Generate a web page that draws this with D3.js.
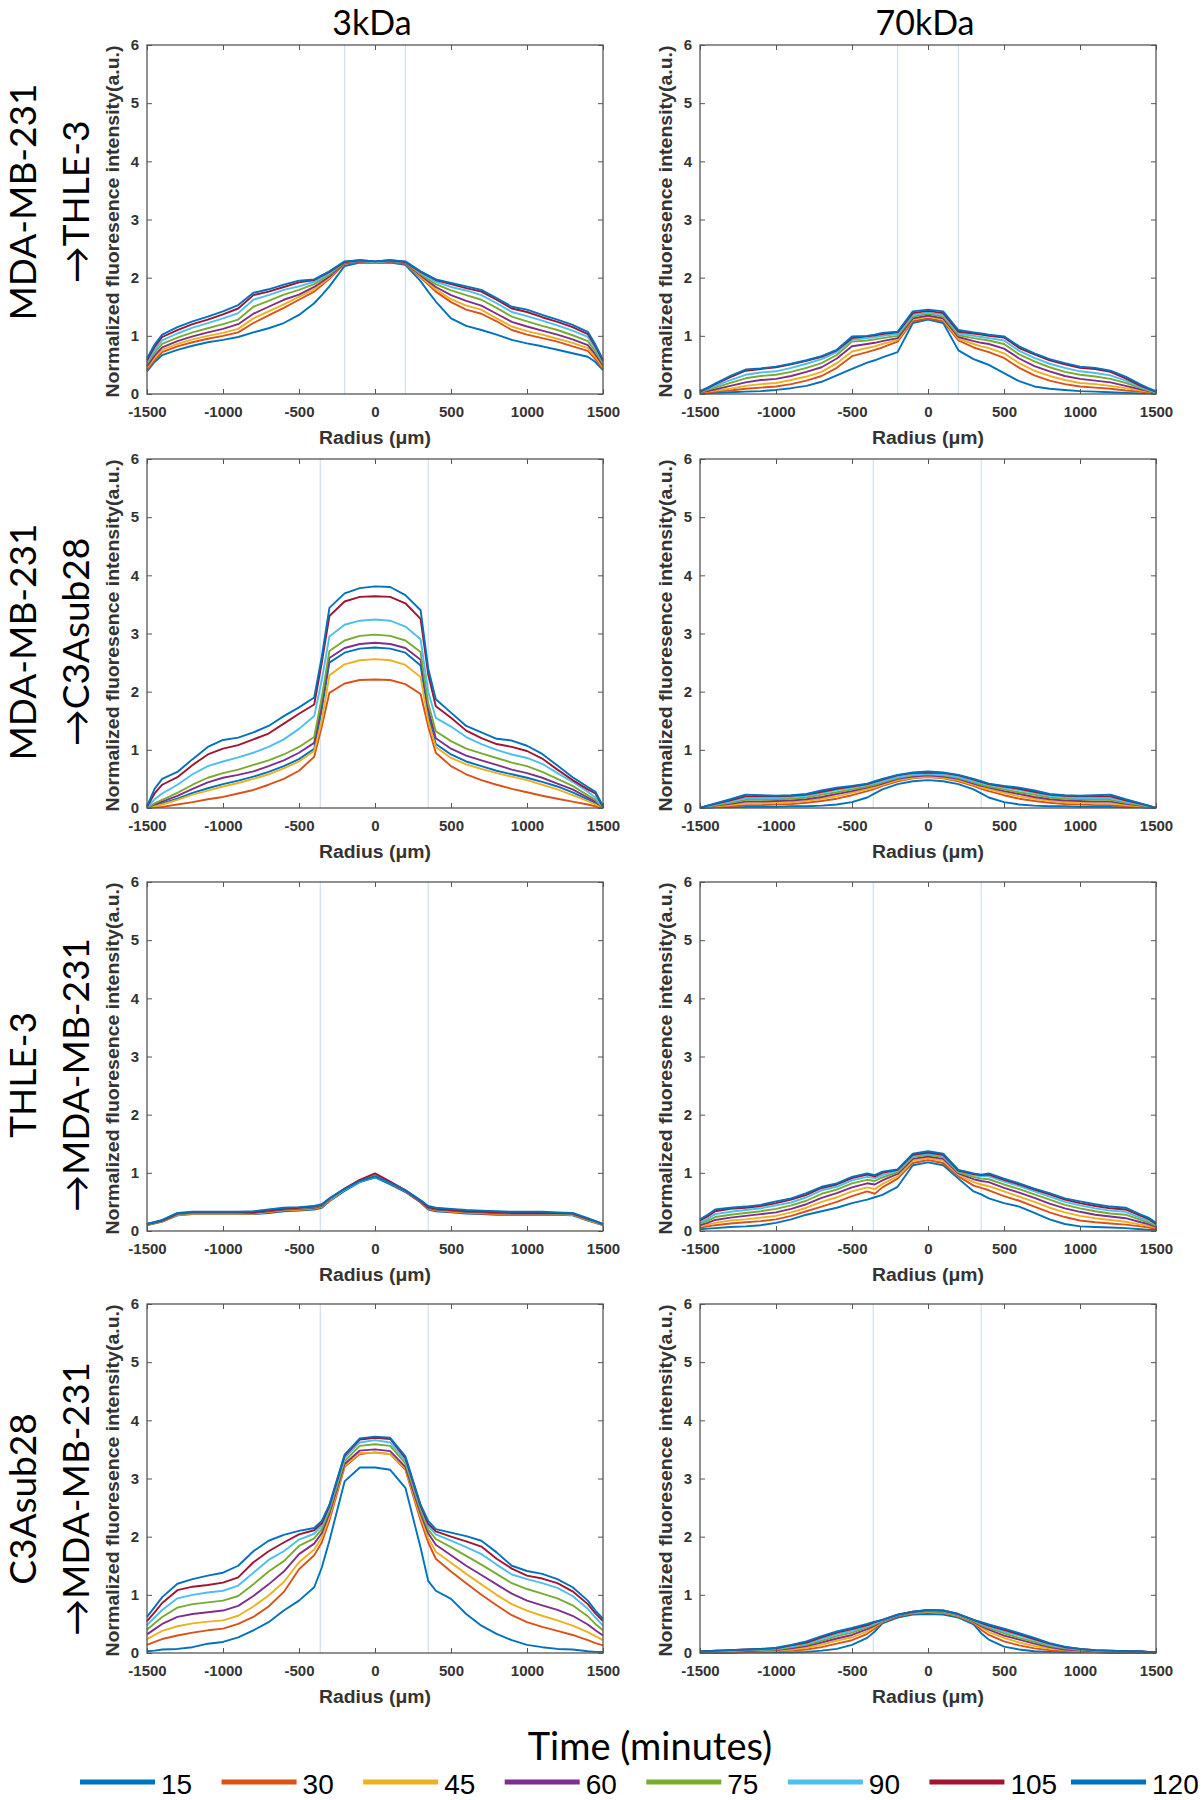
<!DOCTYPE html>
<html>
<head>
<meta charset="utf-8">
<script src="https://cdn.jsdelivr.net/npm/d3@7/dist/d3.min.js"></script>
<style>
  html, body { margin: 0; padding: 0; background: #fff; }
  svg { display: block; }
</style>
</head>
<body>
<script>
// ---------------- DATA ----------------
const radius = [-1500,-1450,-1400,-1300,-1200,-1100,-1000,-900,-800,-700,-600,-500,-400,-350,-300,-200,-100,0,100,200,300,350,400,500,600,700,800,900,1000,1100,1200,1300,1400,1450,1500];
const timeLabels = ["15","30","45","60","75","90","105","120"];
const columnTitles = ["3kDa","70kDa"];
const rowTitles = [["MDA-MB-231","\u2192THLE-3"],["MDA-MB-231","\u2192C3Asub28"],["THLE-3","\u2192MDA-MB-231"],["C3Asub28","\u2192MDA-MB-231"]];
const guideRadii = [[-200,200],[-360,350],[-360,350],[-360,350]];
const xTicks = [-1500,-1000,-500,0,500,1000,1500];
const yTicks = [0,1,2,3,4,5,6];
const xLabel = "Radius (\u03bcm)";
const yLabel = "Normalized fluoresence intensity(a.u.)";
const legendTitle = "Time (minutes)";

// row 1: MDA-MB-231 -> THLE-3
const mdaThle3k = [
[0.39,0.55,0.67,0.76,0.83,0.89,0.93,0.98,1.06,1.13,1.22,1.36,1.56,1.70,1.85,2.20,2.26,2.25,2.26,2.22,1.94,1.76,1.59,1.30,1.17,1.10,1.02,0.93,0.87,0.82,0.76,0.70,0.64,0.55,0.41],
[0.42,0.58,0.72,0.82,0.89,0.95,1.00,1.06,1.22,1.35,1.48,1.62,1.76,1.87,1.98,2.24,2.27,2.26,2.27,2.24,2.00,1.88,1.76,1.58,1.45,1.38,1.25,1.10,1.02,0.96,0.90,0.82,0.74,0.60,0.43],
[0.45,0.62,0.76,0.86,0.94,1.00,1.05,1.12,1.30,1.42,1.54,1.67,1.80,1.90,2.00,2.25,2.28,2.26,2.28,2.25,2.02,1.91,1.80,1.63,1.52,1.45,1.30,1.16,1.08,1.02,0.95,0.88,0.79,0.64,0.46],
[0.48,0.66,0.80,0.91,0.99,1.06,1.12,1.20,1.38,1.50,1.62,1.71,1.84,1.93,2.02,2.25,2.28,2.27,2.28,2.25,2.04,1.94,1.84,1.70,1.60,1.52,1.38,1.24,1.16,1.09,1.02,0.94,0.84,0.68,0.49],
[0.52,0.71,0.86,0.97,1.06,1.13,1.20,1.28,1.50,1.60,1.71,1.79,1.89,1.97,2.05,2.26,2.29,2.27,2.29,2.26,2.06,1.97,1.89,1.78,1.70,1.62,1.48,1.33,1.25,1.17,1.10,1.01,0.91,0.73,0.52],
[0.55,0.76,0.92,1.04,1.14,1.22,1.30,1.39,1.62,1.70,1.79,1.85,1.93,2.00,2.08,2.27,2.29,2.27,2.29,2.27,2.08,2.00,1.93,1.84,1.78,1.70,1.56,1.41,1.34,1.26,1.18,1.09,0.98,0.78,0.55],
[0.58,0.81,0.98,1.10,1.20,1.28,1.37,1.47,1.70,1.76,1.84,1.92,1.96,2.03,2.10,2.27,2.30,2.28,2.30,2.27,2.10,2.03,1.96,1.89,1.82,1.76,1.62,1.47,1.41,1.32,1.24,1.15,1.03,0.82,0.57],
[0.61,0.85,1.02,1.15,1.25,1.33,1.42,1.53,1.74,1.80,1.88,1.95,1.97,2.04,2.11,2.28,2.30,2.28,2.30,2.28,2.11,2.04,1.97,1.91,1.85,1.79,1.65,1.50,1.45,1.36,1.28,1.19,1.07,0.85,0.59]
];
const mdaThle70k = [
[0.01,0.01,0.02,0.03,0.04,0.05,0.07,0.10,0.14,0.21,0.32,0.43,0.54,0.58,0.63,0.72,1.22,1.28,1.22,0.75,0.60,0.55,0.50,0.36,0.22,0.13,0.09,0.07,0.05,0.04,0.03,0.02,0.01,0.01,0.01],
[0.02,0.03,0.04,0.06,0.09,0.11,0.13,0.17,0.23,0.31,0.45,0.65,0.72,0.76,0.80,0.90,1.25,1.30,1.25,0.92,0.80,0.76,0.72,0.62,0.45,0.32,0.23,0.17,0.13,0.11,0.09,0.06,0.04,0.02,0.01],
[0.02,0.04,0.06,0.09,0.14,0.17,0.19,0.24,0.30,0.38,0.53,0.73,0.79,0.82,0.86,0.93,1.28,1.33,1.28,0.95,0.86,0.82,0.79,0.70,0.53,0.40,0.31,0.24,0.19,0.17,0.14,0.10,0.06,0.04,0.02],
[0.03,0.05,0.08,0.14,0.20,0.24,0.26,0.31,0.38,0.46,0.61,0.82,0.86,0.88,0.91,0.96,1.30,1.35,1.30,0.98,0.91,0.88,0.86,0.78,0.61,0.48,0.39,0.31,0.26,0.23,0.20,0.14,0.08,0.05,0.02],
[0.03,0.07,0.11,0.19,0.27,0.31,0.33,0.38,0.45,0.53,0.67,0.90,0.92,0.94,0.96,1.00,1.33,1.38,1.33,1.01,0.96,0.94,0.92,0.86,0.68,0.56,0.46,0.38,0.33,0.30,0.26,0.19,0.10,0.06,0.03],
[0.04,0.09,0.14,0.24,0.33,0.37,0.39,0.45,0.52,0.60,0.72,0.93,0.96,0.98,1.00,1.03,1.36,1.40,1.36,1.04,1.00,0.98,0.96,0.92,0.74,0.62,0.52,0.45,0.39,0.36,0.32,0.23,0.12,0.07,0.03],
[0.04,0.10,0.17,0.29,0.40,0.43,0.46,0.51,0.57,0.64,0.75,0.96,0.99,1.01,1.03,1.06,1.39,1.43,1.39,1.07,1.04,1.02,1.00,0.97,0.79,0.68,0.58,0.51,0.45,0.43,0.38,0.27,0.14,0.09,0.04],
[0.05,0.11,0.18,0.31,0.42,0.44,0.47,0.52,0.58,0.65,0.76,0.99,1.00,1.02,1.05,1.07,1.42,1.45,1.42,1.10,1.06,1.04,1.02,0.99,0.82,0.70,0.60,0.53,0.47,0.45,0.40,0.30,0.16,0.10,0.05]
];
// row 2: MDA-MB-231 -> C3Asub28
const mdaC3a3k = [
[0.00,0.04,0.08,0.16,0.26,0.34,0.41,0.47,0.54,0.62,0.72,0.84,1.02,1.70,2.50,2.67,2.74,2.76,2.74,2.67,2.45,1.60,1.10,0.92,0.80,0.72,0.64,0.58,0.52,0.45,0.37,0.27,0.15,0.08,0.00],
[0.00,0.01,0.02,0.06,0.10,0.15,0.19,0.25,0.31,0.40,0.50,0.64,0.88,1.40,1.98,2.14,2.20,2.21,2.20,2.13,1.96,1.40,0.95,0.72,0.58,0.48,0.40,0.33,0.27,0.21,0.16,0.11,0.06,0.03,0.00],
[0.00,0.03,0.06,0.14,0.23,0.30,0.37,0.43,0.50,0.58,0.68,0.80,0.98,1.50,2.28,2.47,2.54,2.56,2.54,2.46,2.25,1.50,1.05,0.86,0.75,0.67,0.60,0.54,0.48,0.40,0.32,0.22,0.12,0.06,0.00],
[0.00,0.06,0.11,0.21,0.33,0.44,0.52,0.57,0.63,0.72,0.82,0.95,1.12,1.80,2.58,2.75,2.82,2.84,2.82,2.75,2.55,1.70,1.20,1.02,0.90,0.82,0.74,0.66,0.60,0.52,0.42,0.32,0.18,0.11,0.00],
[0.00,0.08,0.14,0.26,0.40,0.52,0.60,0.66,0.74,0.82,0.92,1.05,1.22,1.90,2.70,2.88,2.96,2.98,2.96,2.88,2.68,1.80,1.32,1.15,1.02,0.94,0.86,0.78,0.72,0.62,0.50,0.38,0.22,0.14,0.00],
[0.01,0.15,0.25,0.40,0.58,0.72,0.80,0.87,0.95,1.05,1.18,1.36,1.58,2.20,2.95,3.15,3.22,3.24,3.22,3.12,2.90,2.00,1.55,1.40,1.22,1.10,1.00,0.92,0.86,0.76,0.60,0.45,0.28,0.18,0.01],
[0.02,0.25,0.40,0.53,0.74,0.92,1.02,1.08,1.18,1.28,1.45,1.62,1.78,2.50,3.30,3.55,3.63,3.64,3.63,3.52,3.25,2.30,1.75,1.55,1.33,1.20,1.10,1.05,0.98,0.85,0.66,0.48,0.32,0.25,0.02],
[0.03,0.33,0.50,0.62,0.84,1.05,1.17,1.21,1.30,1.41,1.58,1.73,1.90,2.60,3.44,3.69,3.78,3.81,3.80,3.66,3.40,2.40,1.87,1.64,1.41,1.30,1.19,1.16,1.07,0.93,0.73,0.53,0.36,0.28,0.03]
];
const mdaC3a70k = [
[0.00,0.00,0.01,0.01,0.02,0.02,0.02,0.03,0.03,0.04,0.06,0.10,0.18,0.25,0.32,0.41,0.46,0.48,0.46,0.41,0.32,0.25,0.18,0.10,0.06,0.04,0.03,0.03,0.02,0.02,0.02,0.01,0.01,0.00,0.00],
[0.00,0.01,0.02,0.03,0.05,0.05,0.06,0.07,0.09,0.12,0.16,0.22,0.29,0.33,0.38,0.46,0.51,0.53,0.51,0.46,0.38,0.33,0.29,0.22,0.16,0.12,0.09,0.07,0.06,0.05,0.05,0.03,0.02,0.01,0.00],
[0.00,0.01,0.03,0.05,0.08,0.08,0.09,0.10,0.12,0.16,0.20,0.26,0.32,0.35,0.40,0.48,0.52,0.54,0.52,0.48,0.40,0.35,0.32,0.26,0.20,0.16,0.12,0.10,0.09,0.08,0.08,0.05,0.03,0.01,0.00],
[0.00,0.02,0.04,0.07,0.11,0.11,0.12,0.13,0.15,0.19,0.24,0.29,0.35,0.38,0.42,0.50,0.54,0.56,0.54,0.50,0.42,0.38,0.35,0.29,0.24,0.19,0.15,0.13,0.12,0.11,0.11,0.07,0.04,0.02,0.00],
[0.00,0.02,0.05,0.09,0.14,0.14,0.15,0.16,0.18,0.23,0.27,0.32,0.37,0.40,0.44,0.52,0.56,0.58,0.56,0.52,0.44,0.40,0.37,0.32,0.27,0.23,0.18,0.16,0.15,0.14,0.14,0.09,0.05,0.02,0.00],
[0.00,0.03,0.06,0.11,0.17,0.17,0.17,0.19,0.21,0.26,0.31,0.35,0.40,0.43,0.46,0.53,0.57,0.59,0.57,0.53,0.46,0.43,0.40,0.35,0.31,0.26,0.21,0.19,0.17,0.17,0.17,0.11,0.06,0.03,0.00],
[0.00,0.04,0.07,0.13,0.20,0.20,0.20,0.21,0.23,0.28,0.33,0.37,0.41,0.45,0.49,0.56,0.60,0.61,0.60,0.56,0.49,0.45,0.41,0.37,0.33,0.28,0.23,0.21,0.20,0.20,0.20,0.13,0.07,0.04,0.00],
[0.00,0.04,0.08,0.15,0.23,0.22,0.21,0.22,0.24,0.30,0.35,0.38,0.42,0.46,0.50,0.57,0.61,0.63,0.61,0.57,0.50,0.46,0.42,0.38,0.35,0.30,0.24,0.22,0.21,0.22,0.23,0.15,0.08,0.04,0.00]
];
// row 3: THLE-3 -> MDA-MB-231
const thleMda3k = [
[0.10,0.13,0.16,0.27,0.29,0.29,0.29,0.29,0.29,0.31,0.34,0.35,0.37,0.40,0.51,0.69,0.84,0.92,0.80,0.67,0.49,0.37,0.34,0.32,0.30,0.29,0.28,0.28,0.28,0.28,0.28,0.27,0.18,0.14,0.10],
[0.10,0.13,0.16,0.28,0.30,0.30,0.30,0.30,0.30,0.32,0.35,0.36,0.38,0.41,0.52,0.71,0.86,0.95,0.82,0.68,0.50,0.38,0.35,0.33,0.31,0.30,0.29,0.29,0.29,0.29,0.29,0.28,0.19,0.15,0.10],
[0.11,0.14,0.17,0.28,0.30,0.30,0.30,0.30,0.30,0.33,0.36,0.37,0.39,0.42,0.53,0.71,0.86,0.96,0.83,0.69,0.51,0.39,0.36,0.34,0.32,0.31,0.30,0.29,0.29,0.29,0.29,0.28,0.19,0.15,0.11],
[0.11,0.14,0.17,0.29,0.31,0.31,0.31,0.31,0.31,0.34,0.37,0.38,0.40,0.43,0.54,0.72,0.87,0.95,0.83,0.69,0.51,0.40,0.37,0.35,0.33,0.32,0.31,0.30,0.30,0.30,0.30,0.29,0.20,0.16,0.11],
[0.11,0.14,0.17,0.29,0.31,0.31,0.31,0.31,0.32,0.35,0.38,0.39,0.41,0.44,0.55,0.72,0.87,0.96,0.84,0.70,0.52,0.41,0.38,0.36,0.34,0.33,0.32,0.31,0.31,0.31,0.30,0.29,0.20,0.16,0.11],
[0.12,0.15,0.18,0.30,0.32,0.32,0.32,0.32,0.33,0.36,0.39,0.40,0.42,0.45,0.55,0.71,0.85,0.93,0.83,0.70,0.53,0.42,0.39,0.37,0.35,0.34,0.33,0.32,0.32,0.32,0.31,0.30,0.21,0.17,0.12],
[0.12,0.15,0.18,0.30,0.32,0.32,0.32,0.32,0.32,0.35,0.38,0.40,0.42,0.45,0.56,0.73,0.88,0.99,0.85,0.70,0.52,0.41,0.38,0.36,0.34,0.33,0.32,0.31,0.31,0.31,0.31,0.30,0.21,0.17,0.12],
[0.12,0.15,0.19,0.31,0.33,0.33,0.33,0.33,0.34,0.37,0.40,0.41,0.43,0.46,0.56,0.72,0.86,0.94,0.83,0.70,0.53,0.43,0.40,0.38,0.36,0.35,0.34,0.33,0.33,0.33,0.32,0.31,0.22,0.17,0.12]
];
const thleMda70k = [
[0.03,0.04,0.05,0.07,0.08,0.10,0.14,0.20,0.28,0.34,0.40,0.48,0.54,0.58,0.62,0.76,1.13,1.18,1.13,0.90,0.68,0.63,0.56,0.48,0.42,0.31,0.20,0.12,0.08,0.07,0.06,0.05,0.03,0.02,0.02],
[0.06,0.08,0.10,0.13,0.15,0.17,0.20,0.26,0.34,0.42,0.50,0.60,0.68,0.64,0.75,0.90,1.17,1.22,1.17,0.94,0.78,0.74,0.70,0.60,0.52,0.42,0.32,0.24,0.18,0.15,0.13,0.11,0.08,0.06,0.04],
[0.08,0.11,0.14,0.18,0.20,0.23,0.26,0.32,0.40,0.50,0.58,0.68,0.75,0.72,0.81,0.94,1.21,1.25,1.21,0.97,0.84,0.80,0.77,0.68,0.59,0.50,0.40,0.32,0.26,0.22,0.19,0.16,0.11,0.09,0.06],
[0.10,0.14,0.19,0.23,0.26,0.29,0.32,0.38,0.46,0.57,0.65,0.75,0.82,0.80,0.87,0.98,1.24,1.28,1.24,0.99,0.89,0.86,0.84,0.74,0.66,0.57,0.47,0.39,0.33,0.28,0.25,0.22,0.15,0.12,0.07],
[0.13,0.18,0.24,0.28,0.31,0.34,0.38,0.44,0.52,0.64,0.71,0.82,0.88,0.86,0.92,1.01,1.27,1.31,1.27,1.01,0.93,0.90,0.89,0.80,0.72,0.63,0.54,0.45,0.39,0.34,0.30,0.28,0.19,0.15,0.09],
[0.15,0.21,0.29,0.33,0.36,0.39,0.44,0.49,0.58,0.70,0.76,0.87,0.93,0.91,0.96,1.03,1.29,1.33,1.29,1.03,0.96,0.94,0.94,0.85,0.77,0.68,0.59,0.50,0.44,0.39,0.35,0.33,0.22,0.18,0.11],
[0.18,0.25,0.34,0.38,0.40,0.43,0.48,0.54,0.62,0.74,0.80,0.91,0.97,0.94,1.00,1.05,1.31,1.35,1.31,1.04,0.98,0.96,0.97,0.88,0.80,0.71,0.63,0.54,0.48,0.43,0.39,0.37,0.26,0.21,0.12],
[0.20,0.28,0.37,0.40,0.42,0.45,0.51,0.56,0.65,0.76,0.82,0.93,0.99,0.96,1.02,1.06,1.33,1.37,1.33,1.05,0.99,0.97,0.99,0.90,0.82,0.73,0.65,0.56,0.51,0.46,0.42,0.40,0.28,0.23,0.14]
];
// row 4: C3Asub28 -> MDA-MB-231
const c3aMda3k = [
[0.03,0.04,0.06,0.07,0.10,0.16,0.19,0.27,0.39,0.53,0.73,0.90,1.13,1.47,1.93,2.95,3.19,3.19,3.15,2.84,1.81,1.24,1.07,0.93,0.67,0.47,0.33,0.22,0.14,0.10,0.07,0.06,0.03,0.02,0.02],
[0.14,0.19,0.24,0.30,0.35,0.39,0.42,0.50,0.62,0.80,1.05,1.44,1.68,1.90,2.28,3.20,3.42,3.45,3.42,3.15,2.28,1.90,1.62,1.40,1.20,1.00,0.82,0.65,0.53,0.45,0.38,0.31,0.22,0.17,0.13],
[0.24,0.31,0.38,0.46,0.51,0.54,0.56,0.64,0.80,0.99,1.22,1.56,1.78,1.98,2.34,3.22,3.44,3.44,3.42,3.17,2.34,1.98,1.74,1.55,1.36,1.18,1.00,0.84,0.73,0.64,0.56,0.47,0.36,0.29,0.22],
[0.32,0.41,0.50,0.62,0.67,0.70,0.73,0.81,0.98,1.18,1.40,1.70,1.88,2.06,2.40,3.25,3.48,3.50,3.47,3.20,2.40,2.06,1.86,1.68,1.50,1.34,1.18,1.02,0.90,0.82,0.74,0.64,0.49,0.39,0.30],
[0.40,0.51,0.62,0.78,0.84,0.87,0.90,0.98,1.18,1.40,1.58,1.84,1.97,2.13,2.45,3.30,3.56,3.59,3.56,3.26,2.45,2.12,1.96,1.82,1.67,1.52,1.36,1.20,1.10,1.02,0.94,0.82,0.63,0.50,0.39],
[0.48,0.61,0.74,0.94,1.00,1.04,1.07,1.16,1.38,1.60,1.75,1.95,2.05,2.19,2.50,3.35,3.62,3.66,3.62,3.30,2.50,2.18,2.04,1.93,1.82,1.70,1.52,1.35,1.27,1.20,1.12,0.98,0.76,0.61,0.47],
[0.55,0.70,0.86,1.08,1.14,1.17,1.21,1.30,1.56,1.75,1.90,2.04,2.11,2.23,2.53,3.39,3.67,3.70,3.68,3.35,2.53,2.22,2.09,2.00,1.92,1.83,1.62,1.45,1.33,1.28,1.20,1.06,0.84,0.68,0.55],
[0.62,0.79,0.96,1.19,1.27,1.33,1.38,1.50,1.75,1.93,2.03,2.10,2.15,2.27,2.55,3.41,3.69,3.72,3.70,3.38,2.55,2.27,2.13,2.07,2.01,1.93,1.73,1.50,1.41,1.36,1.27,1.13,0.90,0.73,0.59]
];
const c3aMda70k = [
[0.00,0.00,0.00,0.00,0.01,0.01,0.01,0.01,0.02,0.04,0.07,0.14,0.26,0.37,0.51,0.61,0.66,0.67,0.66,0.61,0.49,0.34,0.23,0.11,0.06,0.03,0.02,0.01,0.01,0.01,0.00,0.00,0.00,0.00,0.00],
[0.01,0.01,0.01,0.01,0.02,0.02,0.03,0.04,0.06,0.10,0.16,0.22,0.33,0.42,0.53,0.63,0.68,0.70,0.69,0.63,0.52,0.40,0.31,0.20,0.13,0.08,0.05,0.03,0.02,0.02,0.01,0.01,0.01,0.00,0.00],
[0.01,0.01,0.02,0.02,0.03,0.03,0.04,0.06,0.09,0.14,0.21,0.27,0.37,0.45,0.54,0.64,0.69,0.71,0.70,0.64,0.53,0.44,0.36,0.26,0.18,0.12,0.08,0.05,0.03,0.02,0.02,0.01,0.01,0.01,0.01],
[0.02,0.02,0.02,0.03,0.03,0.04,0.05,0.08,0.12,0.18,0.25,0.31,0.41,0.47,0.55,0.64,0.70,0.72,0.71,0.65,0.54,0.46,0.40,0.30,0.23,0.16,0.10,0.06,0.04,0.03,0.02,0.02,0.01,0.01,0.01],
[0.02,0.02,0.03,0.03,0.04,0.05,0.06,0.10,0.14,0.21,0.29,0.35,0.44,0.49,0.55,0.65,0.70,0.72,0.71,0.65,0.55,0.48,0.43,0.34,0.26,0.19,0.12,0.08,0.05,0.04,0.03,0.02,0.02,0.01,0.01],
[0.02,0.03,0.03,0.04,0.05,0.06,0.07,0.11,0.16,0.24,0.32,0.38,0.46,0.51,0.56,0.65,0.71,0.73,0.72,0.66,0.56,0.50,0.45,0.37,0.30,0.22,0.14,0.09,0.06,0.04,0.03,0.03,0.02,0.02,0.01],
[0.03,0.03,0.04,0.05,0.06,0.07,0.08,0.13,0.18,0.27,0.35,0.41,0.48,0.53,0.57,0.66,0.71,0.74,0.73,0.67,0.57,0.52,0.47,0.40,0.32,0.24,0.16,0.10,0.07,0.05,0.04,0.03,0.03,0.02,0.02],
[0.03,0.03,0.04,0.05,0.06,0.07,0.09,0.14,0.20,0.29,0.37,0.43,0.50,0.54,0.57,0.66,0.71,0.74,0.73,0.67,0.57,0.53,0.49,0.42,0.34,0.26,0.17,0.11,0.07,0.05,0.04,0.03,0.03,0.02,0.02]
];

// ---------------- STYLE / LAYOUT ----------------
const seriesColors = ["#0072BD","#D95319","#EDB120","#7E2F8E","#77AC30","#4DBEEE","#A2142F","#0072BD"];
const panels = [
  [mdaThle3k, mdaThle70k],
  [mdaC3a3k, mdaC3a70k],
  [thleMda3k, thleMda70k],
  [c3aMda3k, c3aMda70k]
];
const W = 1204, H = 1800;
const colX = [147, 700], plotW = 456;
const rowY = [45, 459, 882, 1304], plotH = 349;
const rowLabelCY = [202, 642, 1075, 1499];
const rowLabelX = [21, 74];
const axisFont = "'Liberation Sans', Arial, Helvetica, sans-serif";
const titleFont = "Lato, 'Open Sans', sans-serif";

const svg = d3.select("body").append("svg")
  .attr("width", W).attr("height", H)
  .attr("viewBox", `0 0 ${W} ${H}`);
svg.append("rect").attr("width", W).attr("height", H).attr("fill", "#fff");

function drawPanel(r, c) {
  const data = panels[r][c];
  const x0 = colX[c], y0 = rowY[r];
  const x = d3.scaleLinear().domain([-1500, 1500]).range([x0, x0 + plotW]);
  const y = d3.scaleLinear().domain([0, 6]).range([y0 + plotH, y0]);
  const g = svg.append("g");

  // guide lines
  g.selectAll("line.guide").data(guideRadii[r]).enter().append("line")
    .attr("x1", d => x(d)).attr("x2", d => x(d))
    .attr("y1", y0).attr("y2", y0 + plotH)
    .attr("stroke", "#cfe0ef").attr("stroke-width", 1.2);

  // curves
  const line = d3.line().x((d, i) => x(radius[i])).y(d => y(d));
  g.selectAll("path.curve").data(data).enter().append("path")
    .attr("d", d => line(d))
    .attr("fill", "none")
    .attr("stroke", (d, i) => seriesColors[i])
    .attr("stroke-width", 1.9)
    .attr("stroke-linejoin", "round");

  // axes
  const fmt = d => String(d);
  const axB = g.append("g").attr("transform", `translate(0,${y0 + plotH})`)
    .call(d3.axisBottom(x).tickValues(xTicks).tickSize(-5).tickPadding(12).tickFormat(fmt));
  const axT = g.append("g").attr("transform", `translate(0,${y0})`)
    .call(d3.axisTop(x).tickValues(xTicks).tickSize(-5).tickFormat(""));
  const axL = g.append("g").attr("transform", `translate(${x0},0)`)
    .call(d3.axisLeft(y).tickValues(yTicks).tickSize(-5).tickPadding(8).tickFormat(fmt));
  const axR = g.append("g").attr("transform", `translate(${x0 + plotW},0)`)
    .call(d3.axisRight(y).tickValues(yTicks).tickSize(-5).tickFormat(""));
  [axB, axT, axL, axR].forEach(a => {
    a.select(".domain").remove();
    a.selectAll(".tick line").attr("stroke", "#555").attr("stroke-width", 1);
    a.selectAll(".tick text").attr("fill", "#333")
      .style("font-family", axisFont).style("font-size", "15px").style("font-weight", "bold");
  });

  // frame
  g.append("rect").attr("x", x0).attr("y", y0).attr("width", plotW).attr("height", plotH)
    .attr("fill", "none").attr("stroke", "#555").attr("stroke-width", 1.3);

  // axis labels
  g.append("text")
    .attr("x", x0 + plotW / 2).attr("y", y0 + plotH + 44)
    .attr("text-anchor", "middle").attr("dominant-baseline", "central")
    .attr("textLength", 112).attr("lengthAdjust", "spacingAndGlyphs")
    .style("font-family", axisFont).style("font-size", "18px").style("font-weight", "bold")
    .attr("fill", "#333").text(xLabel);
  g.append("text")
    .attr("transform", `translate(${x0 - 34},${y0 + plotH / 2 + 2}) rotate(-90)`)
    .attr("text-anchor", "middle").attr("dominant-baseline", "central")
    .attr("textLength", 352).attr("lengthAdjust", "spacingAndGlyphs")
    .style("font-family", axisFont).style("font-size", "18px").style("font-weight", "bold")
    .attr("fill", "#333").text(yLabel);
}

for (let r = 0; r < 4; r++) for (let c = 0; c < 2; c++) drawPanel(r, c);

// column titles
svg.selectAll("text.coltitle").data(columnTitles).enter().append("text")
  .attr("x", (d, i) => colX[i] + plotW / 2 - 3).attr("y", 35)
  .attr("text-anchor", "middle")
  .style("font-family", titleFont).style("font-size", "34px")
  .attr("fill", "#000").text(d => d);

// row titles
rowTitles.forEach((lines, r) => {
  lines.forEach((t, k) => {
    svg.append("text")
      .attr("transform", `translate(${rowLabelX[k]},${rowLabelCY[r]}) rotate(-90)`)
      .attr("text-anchor", "middle").attr("dominant-baseline", "central")
      .style("font-family", titleFont).style("font-size", "37px")
      .attr("fill", "#000").text(t);
  });
});

// legend
svg.append("text").attr("x", 650).attr("y", 1745)
  .attr("text-anchor", "middle").attr("dominant-baseline", "central")
  .style("font-family", titleFont).style("font-size", "38px")
  .attr("fill", "#000").text(legendTitle);

const lx = d3.scaleLinear().domain([0, 7]).range([80, 1071]);
const lg = svg.selectAll("g.leg").data(timeLabels).enter().append("g");
lg.append("line")
  .attr("x1", (d, i) => lx(i)).attr("x2", (d, i) => lx(i) + 75)
  .attr("y1", 1782).attr("y2", 1782)
  .attr("stroke", (d, i) => seriesColors[i]).attr("stroke-width", 5);
lg.append("text")
  .attr("x", (d, i) => lx(i) + 81).attr("y", 1784)
  .attr("dominant-baseline", "central")
  .style("font-family", axisFont).style("font-size", "28px")
  .attr("fill", "#000").text(d => d);
</script>
</body>
</html>
